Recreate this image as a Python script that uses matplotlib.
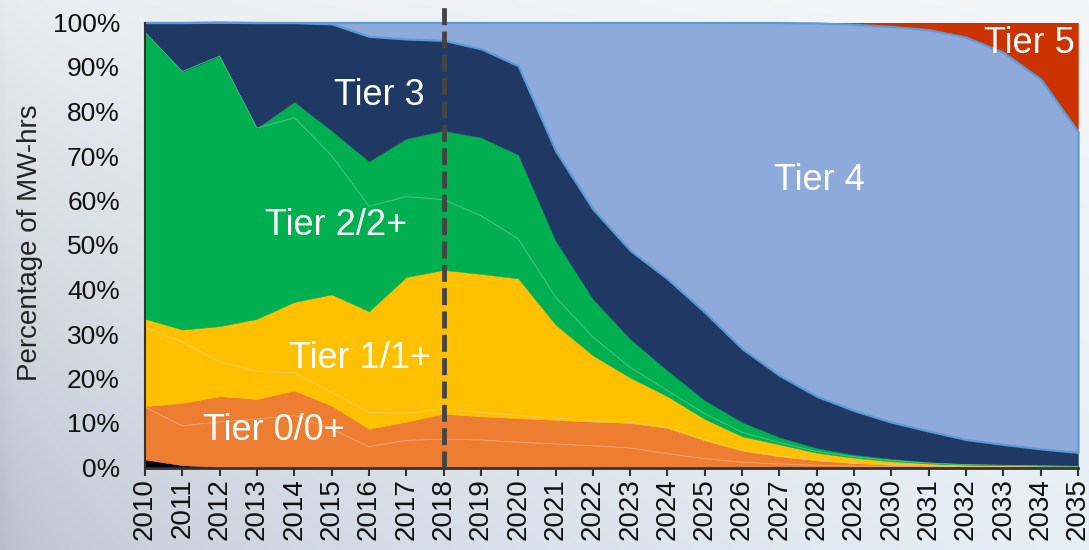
import numpy as np
import matplotlib
matplotlib.use("Agg")
import matplotlib.pyplot as plt
from matplotlib.colors import to_rgb

plt.rcParams['font.family'] = ['Liberation Sans', 'DejaVu Sans']

years = list(range(2010, 2036))

# shares of MW-hrs (%) by engine tier (bottom to top)
uncontrolled = [1.8, 0.5, 0.15, 0.1, 0.1, 0.1, 0.1, 0.1, 0.2, 0.1, 0.1, 0, 0, 0, 0, 0, 0, 0, 0, 0, 0, 0, 0, 0, 0, 0]
tier0 = [11.8, 8.9, 10.1, 10.8, 11.6, 8.6, 4.6, 6.0, 6.2, 6.1, 5.6, 5.3, 4.9, 4.4, 3.1, 2.0, 1.2, 0.8, 0.5, 0.3, 0.2, 0.15, 0.1, 0.1, 0.05, 0.05]
tier0p = [0.2, 5.1, 5.8, 4.5, 5.6, 5.2, 4.0, 4.2, 5.7, 5.3, 5.4, 5.4, 5.4, 5.6, 5.8, 4.1, 2.6, 1.7, 1.1, 0.7, 0.4, 0.25, 0.15, 0.05, 0.05, 0.05]
tier1 = [17.7, 13.7, 7.7, 6.2, 4.0, 3.0, 3.7, 1.9, 1.1, 0.9, 0.6, 0.4, 0.3, 0.2, 0.1, 0.1, 0.1, 0.1, 0.1, 0.05, 0.05, 0.05, 0.05, 0.05, 0.02, 0.02]
tier1p = [1.9, 2.8, 8.0, 11.8, 15.9, 22.0, 22.7, 30.6, 31.2, 31.1, 30.8, 21.0, 14.6, 10.0, 7.0, 4.7, 3.1, 2.6, 1.6, 1.15, 0.75, 0.45, 0.3, 0.2, 0.18, 0.08]
tier2 = [64.4, 58.0, 60.7, 42.9, 41.4, 31.2, 23.6, 18.1, 15.8, 13.1, 8.9, 6.2, 4.1, 2.3, 1.3, 1.2, 0.9, 0.4, 0.3, 0.2, 0.2, 0.1, 0.05, 0.1, 0.08, 0.05]
tier2p = [0, 0, 0, 0, 3.6, 5.6, 10.1, 13.0, 15.5, 17.6, 18.9, 12.7, 8.6, 6.4, 4.5, 3.0, 2.3, 1.2, 0.8, 0.5, 0.4, 0.2, 0.15, 0.1, 0.12, 0.05]
tier3 = [2.2, 11.0, 7.6, 23.7, 17.8, 24.0, 28.1, 22.4, 20.3, 19.9, 20.0, 20.2, 20.2, 19.9, 20.6, 19.8, 16.5, 13.9, 11.6, 9.9, 8.2, 7.0, 5.5, 4.6, 3.7, 3.1]
tier4 = [0, 0, 0, 0, 0, 0.3, 3.1, 3.7, 4.0, 5.9, 9.7, 28.8, 41.9, 51.2, 57.6, 65.1, 73.3, 79.3, 83.9, 86.8, 88.9, 90.2, 90.4, 88.1, 83.1, 72.1]
tier5 = [0, 0, 0, 0, 0, 0, 0, 0, 0, 0, 0, 0, 0, 0, 0, 0, 0, 0, 0.1, 0.4, 0.9, 1.6, 3.3, 6.7, 12.7, 24.5]

series = [uncontrolled, tier0, tier0p, tier1, tier1p, tier2, tier2p, tier3, tier4, tier5]
colors = ['#000000', '#ED7D31', '#ED7D31', '#FFC000', '#FFC000',
          '#00B050', '#00B050', '#1F3864', '#8EAADB', '#CC3300']

labels = [("Tier 0/0+", 2013.44, 6.2), ("Tier 1/1+", 2015.75, 22.3),
          ("Tier 2/2+", 2015.13, 52.2), ("Tier 3", 2016.28, 81.5),
          ("Tier 4", 2028.06, 62.4), ("Tier 5", 2033.70, 93.1)]

fig = plt.figure(figsize=(10.89, 5.5), dpi=100)

# background gradient
bg = fig.add_axes([0, 0, 1, 1], zorder=-5)
h, w = 110, 218
tl, bl = np.array(to_rgb('#e6e9ee')), np.array(to_rgb('#b7bdc9'))
tr, br = np.array(to_rgb('#f4f6f8')), np.array(to_rgb('#e6eef6'))
yy = np.linspace(0, 1, h)[:, None, None]
xx = np.linspace(0, 1, w)[None, :, None] ** 0.45
img = (1 - yy) * ((1 - xx) * tl + xx * tr) + yy * ((1 - xx) * bl + xx * br)
bg.imshow(np.clip(img, 0, 1), aspect='auto', extent=[0, 1, 0, 1], interpolation='bilinear')
bg.axis('off')

ax = fig.add_axes([145 / 1089, 1 - 467.5 / 550, (1078 - 145) / 1089, (467.5 - 22.5) / 550])
ax.patch.set_alpha(0)

polys = ax.stackplot(years, *series, colors=colors, linewidth=0, antialiased=True)
for p in polys:
    p.set_edgecolor('face')
    p.set_linewidth(0.3)
# Tier 4 outline
polys[8].set_edgecolor('#5B9BD5')
polys[8].set_linewidth(1.6)
polys[8].set_zorder(3)
polys[8].set_clip_on(False)

# thin separators inside tier groups
cum = np.cumsum(np.array(series, dtype=float), axis=0)
ax.plot(years, cum[1], color='#F2A777', lw=0.6, zorder=2)
ax.plot(years, cum[3], color='#EACB6A', lw=0.6, zorder=2)
ax.plot(years, cum[5], color='#52C585', lw=0.6, zorder=2)

ax.set_xlim(2010, 2035)
ax.set_ylim(0, 100)
ax.set_xticks(years)
ax.set_xticklabels([str(y) for y in years], rotation=90, fontsize=20)
ax.set_yticks(range(0, 101, 10))
ax.set_yticklabels([f"{v}%" for v in range(0, 101, 10)], fontsize=19)
ax.tick_params(axis='x', direction='out', length=6, width=1.5, color='#333333', pad=2, labelcolor='#111111')
ax.tick_params(axis='y', length=0, pad=18, labelcolor='#111111')
for s in ['top', 'right']:
    ax.spines[s].set_visible(False)
ax.spines['left'].set_color('#333333')
ax.spines['left'].set_linewidth(1.5)
ax.spines['bottom'].set_color('#333333')
ax.spines['bottom'].set_linewidth(2)
ax.spines['left'].set_zorder(5)
ax.spines['bottom'].set_zorder(5)

# projection divider
ax.axvline(2018, ymin=0, ymax=1.035, color='#444444', lw=3.5,
           linestyle=(0, (3.5, 1.3)), clip_on=False, zorder=6)

for txt, x, y in labels:
    ax.text(x, y, txt, color='white', fontsize=26, ha='center', va='baseline', zorder=7)

fig.text(30 / 1089, 1 - 243 / 550, "Percentage of MW-hrs", rotation=90,
         fontsize=20, color='#222222', ha='center', va='center')

fig.savefig('out.png', dpi=100)
